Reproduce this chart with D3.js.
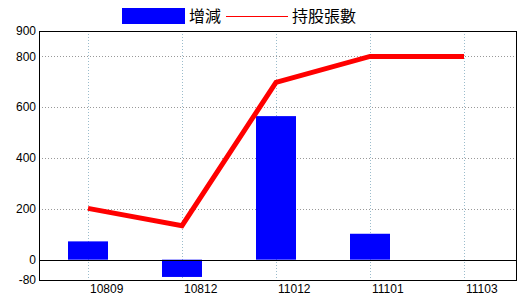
<!DOCTYPE html>
<html>
<head>
<meta charset="utf-8">
<script src="https://cdn.jsdelivr.net/npm/d3@7"></script>
<style>
  body { margin: 0; background: #fff; }
  svg { display: block; }
</style>
</head>
<body>
<svg width="520" height="300"></svg>
<script>
var periods = ["10809", "10812", "11012", "11101", "11103"];
var change = [72, -68, 565, 102, 0];        // 增減
var shares = [202, 134, 698, 800, 800];     // 持股張數
var yTicks = [900, 800, 600, 400, 200, 0, -80];
var gridTicks = [800, 600, 400, 200];

var svg = d3.select("svg"),
    plot = {left: 39, top: 31, right: 517, bottom: 280};

var x = d3.scaleBand()
    .domain(periods)
    .range([41, 511]);

var y = d3.scaleLinear()
    .domain([-80, 900])
    .range([plot.bottom, plot.top]);

var cx = function(d) { return x(d) + x.bandwidth() / 2; };

// grid
svg.append("g").selectAll("line")
    .data(gridTicks)
  .enter().append("line")
    .attr("x1", plot.left).attr("x2", plot.right)
    .attr("y1", function(d) { return Math.round(y(d)) + 0.5; })
    .attr("y2", function(d) { return Math.round(y(d)) + 0.5; })
    .attr("stroke", "#999")
    .attr("stroke-dasharray", "1,2");

svg.append("g").selectAll("line")
    .data(periods)
  .enter().append("line")
    .attr("x1", function(d) { return Math.round(cx(d)) + 0.5; })
    .attr("x2", function(d) { return Math.round(cx(d)) + 0.5; })
    .attr("y1", plot.top).attr("y2", plot.bottom)
    .attr("stroke", "#9bbccc")
    .attr("stroke-dasharray", "1,2");

// bars
svg.append("g").selectAll("rect")
    .data(periods)
  .enter().append("rect")
    .attr("x", function(d) { return cx(d) - 20; })
    .attr("width", 40)
    .attr("y", function(d, i) { return y(Math.max(0, change[i])); })
    .attr("height", function(d, i) { return Math.abs(y(change[i]) - y(0)); })
    .attr("fill", "#0000ff");

// zero line
svg.append("line")
    .attr("x1", plot.left).attr("x2", plot.right)
    .attr("y1", Math.round(y(0)) + 0.5).attr("y2", Math.round(y(0)) + 0.5)
    .attr("stroke", "#000");

// line series
var line = d3.line()
    .x(function(d, i) { return cx(periods[i]); })
    .y(function(d) { return y(d); });

svg.append("path")
    .datum(shares)
    .attr("d", line)
    .attr("fill", "none")
    .attr("stroke", "#ff0000")
    .attr("stroke-width", 5);

// frame
svg.append("rect")
    .attr("x", plot.left + 0.5).attr("y", plot.top + 0.5)
    .attr("width", plot.right - plot.left - 1)
    .attr("height", plot.bottom - plot.top)
    .attr("fill", "none")
    .attr("stroke", "#000");

// y axis labels
svg.append("g")
    .attr("font-family", "Liberation Sans, Arial, sans-serif")
    .attr("font-size", 12)
    .attr("text-anchor", "end")
  .selectAll("text")
    .data(yTicks)
  .enter().append("text")
    .attr("x", 36)
    .attr("y", function(d) { return y(d); })
    .attr("dy", "0.35em")
    .text(function(d) { return d; });

// x axis labels
svg.append("g")
    .attr("font-family", "Liberation Sans, Arial, sans-serif")
    .attr("font-size", 12)
    .attr("text-anchor", "start")
  .selectAll("text")
    .data(periods)
  .enter().append("text")
    .attr("x", function(d) { return cx(d) + 2; })
    .attr("y", 292.5)
    .text(function(d) { return d; });

// legend
var legend = svg.append("g")
    .attr("font-family", "Noto Sans CJK TC, sans-serif")
    .attr("font-size", 16);

legend.append("rect")
    .attr("x", 122).attr("y", 8)
    .attr("width", 63).attr("height", 16)
    .attr("fill", "#0000ff");
legend.append("text")
    .attr("x", 189).attr("y", 22)
    .text("增減");
legend.append("line")
    .attr("x1", 226).attr("x2", 288)
    .attr("y1", 16.5).attr("y2", 16.5)
    .attr("stroke", "#ff0000");
legend.append("text")
    .attr("x", 292).attr("y", 22)
    .text("持股張數");
</script>
</body>
</html>
